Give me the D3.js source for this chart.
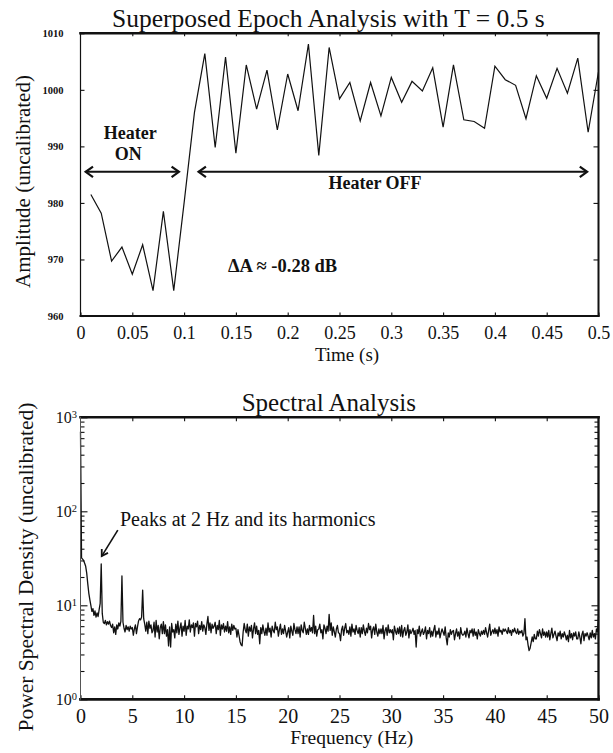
<!DOCTYPE html>
<html>
<head>
<meta charset="utf-8">
<script src="https://cdn.jsdelivr.net/npm/d3@7"></script>
<style>
  body { margin: 0; background: #fff; }
  svg { display: block; }
  text { font-family: "Liberation Serif", "Times New Roman", serif; fill: #111; }
</style>
</head>
<body>
<svg id="chart" width="613" height="753"></svg>
<script>
// ---------- Superposed epoch analysis (T = 0.5 s) ----------
const epochTimes = [
  0.01, 0.02, 0.03, 0.04, 0.05, 0.06, 0.07, 0.08, 0.09, 0.10,
  0.11, 0.12, 0.13, 0.14, 0.15, 0.16, 0.17, 0.18, 0.19, 0.20,
  0.21, 0.22, 0.23, 0.24, 0.25, 0.26, 0.27, 0.28, 0.29, 0.30,
  0.31, 0.32, 0.33, 0.34, 0.35, 0.36, 0.37, 0.38, 0.39, 0.40,
  0.41, 0.42, 0.43, 0.44, 0.45, 0.46, 0.47, 0.48, 0.49, 0.50
];
const epochAmplitude = [
  981.5, 978.2, 969.7, 972.2, 967.4, 972.6, 964.5, 978.5, 964.5, 980.0,
  996.0, 1006.4, 989.8, 1005.8, 988.8, 1004.4, 996.6, 1003.5, 992.9, 1002.8,
  996.3, 1008.1, 988.4, 1007.5, 998.4, 1001.3, 994.5, 1001.3, 995.4, 1002.2,
  997.8, 1001.5, 999.8, 1003.9, 993.4, 1004.4, 994.7, 994.4, 993.2, 1004.2,
  1001.8, 1000.8, 994.9, 1002.5, 998.5, 1003.8, 999.4, 1005.6, 992.5, 1003.2
];
const timeTicks = [0, 0.05, 0.1, 0.15, 0.2, 0.25, 0.3, 0.35, 0.4, 0.45, 0.5];
const timeTickLabels = ["0", "0.05", "0.1", "0.15", "0.2", "0.25", "0.3", "0.35", "0.4", "0.45", "0.5"];
const amplitudeTicks = [960, 970, 980, 990, 1000, 1010];

// ---------- Spectral analysis: PSD sampled every 0.1 Hz from 0 to 50 Hz ----------
const freqStep = 0.1;
const psd = [
  /* 0 Hz */ 700, 32, 31, 30, 28, 26, 22, 17, 13.5, 11.5,
  /* 1 */ 10, 8.6, 9.2, 7.8, 8.7, 7.5, 8.3, 7.6, 9.0, 10.5,
  /* 2 */ 27.5, 8.2, 6.6, 6.4, 6.9, 6.2, 6.7, 6.3, 6.8, 6.1,
  /* 3 */ 5.8, 6.3, 5.1, 5.9, 4.9, 6.2, 5.6, 6.5, 6.0, 6.8,
  /* 4 */ 20.5, 6.6, 5.7, 5.2, 6.1, 5.5, 5.9, 5.3, 6.0, 5.6,
  /* 5 */ 5.8, 4.8, 5.6, 6.2, 5.0, 5.9, 6.8, 7.2, 7.0, 7.5,
  /* 6 */ 14.5, 7.2, 6.3, 5.3, 6.6, 5.0, 6.8, 5.7, 6.2, 5.1,
  /* 7 */ 5.4, 6.6, 4.6, 6.9, 5.2, 6.1, 4.4, 5.8, 6.3, 5.0,
  /* 8 */ 6.7, 5.0, 6.2, 4.7, 5.5, 3.7, 5.9, 3.6, 6.4, 5.2,
  /* 9 */ 5.5, 4.5, 6.3, 5.1, 6.8, 4.9, 5.7, 6.5, 4.7, 6.0,
  /* 10 */ 5.3, 6.9, 4.8, 6.0, 5.6, 7.0, 5.2, 6.2, 5.8, 6.5,
  /* 11 */ 4.7, 6.4, 5.9, 6.8, 5.0, 6.1, 5.5, 6.7, 5.3, 6.2,
  /* 12 */ 5.8, 4.9, 6.3, 7.6, 5.4, 6.5, 5.1, 6.3, 5.7, 6.0,
  /* 13 */ 6.6, 5.0, 6.1, 5.5, 6.9, 4.8, 6.2, 5.6, 6.4, 5.2,
  /* 14 */ 6.0, 5.3, 6.7, 5.1, 5.9, 4.9, 6.3, 5.4, 6.1, 5.6,
  /* 15 */ 5.7, 4.6, 5.5, 4.8, 4.1, 3.8, 3.7, 5.2, 6.4, 5.5,
  /* 16 */ 5.1, 6.3, 4.7, 5.9, 5.3, 6.1, 4.5, 5.6, 6.5, 5.0,
  /* 17 */ 6.0, 4.9, 5.4, 3.9, 5.8, 5.0, 6.2, 5.3, 4.8, 5.7,
  /* 18 */ 4.8, 6.5, 5.2, 5.7, 4.6, 6.0, 5.4, 5.1, 6.6, 5.5,
  /* 19 */ 5.9, 4.7, 5.5, 6.3, 4.9, 5.6, 5.0, 6.1, 5.3, 4.6,
  /* 20 */ 5.2, 5.8, 4.5, 6.0, 5.3, 4.8, 6.4, 5.5, 5.0, 5.9,
  /* 21 */ 5.0, 5.9, 4.6, 6.2, 5.4, 5.1, 6.6, 5.7, 4.9, 5.6,
  /* 22 */ 4.9, 6.1, 5.3, 5.8, 5.1, 7.8, 5.0, 6.0, 4.7, 5.5,
  /* 23 */ 5.6, 6.3, 5.1, 5.5, 4.4, 6.2, 5.7, 5.0, 6.0, 5.3,
  /* 24 */ 8.0, 5.4, 6.5, 4.8, 5.9, 5.2, 4.6, 5.6, 6.1, 5.1,
  /* 25 */ 5.0, 4.2, 5.5, 6.0, 4.8, 5.7, 6.4, 5.1, 5.4, 4.9,
  /* 26 */ 5.9, 4.7, 6.3, 5.2, 5.6, 4.9, 6.1, 5.4, 5.0, 5.8,
  /* 27 */ 4.6, 5.8, 5.0, 6.2, 5.3, 4.8, 5.7, 5.1, 6.4, 5.5,
  /* 28 */ 6.0, 4.5, 5.5, 5.9, 4.9, 6.3, 5.2, 4.7, 5.6, 5.0,
  /* 29 */ 5.6, 5.0, 6.1, 4.4, 5.4, 5.8, 4.8, 6.2, 5.1, 5.5,
  /* 30 */ 5.1, 5.5, 4.3, 6.0, 5.3, 4.9, 5.7, 5.0, 5.9, 4.7,
  /* 31 */ 6.1, 4.6, 5.4, 5.8, 4.8, 5.2, 6.2, 4.5, 5.5, 5.0,
  /* 32 */ 5.3, 5.7, 4.9, 5.4, 3.6, 5.5, 5.0, 6.0, 4.7, 5.2,
  /* 33 */ 5.6, 4.9, 5.2, 5.9, 4.4, 5.4, 5.0, 5.8, 4.6, 5.3,
  /* 34 */ 4.7, 5.5, 6.1, 4.6, 5.3, 4.9, 5.7, 4.5, 5.1, 5.6,
  /* 35 */ 5.2, 4.8, 5.9, 4.5, 3.8, 5.1, 4.6, 5.5, 4.9, 5.3,
  /* 36 */ 5.4, 4.3, 5.0, 5.6, 4.7, 5.2, 4.4, 5.8, 5.0, 4.8,
  /* 37 */ 4.9, 5.3, 4.6, 5.7, 5.0, 4.5, 5.4, 5.1, 5.6, 4.7,
  /* 38 */ 5.6, 4.8, 5.2, 4.4, 5.5, 5.0, 4.7, 5.3, 4.9, 5.4,
  /* 39 */ 4.9, 5.8, 5.1, 4.6, 5.4, 6.3, 4.8, 5.2, 5.5, 5.0,
  /* 40 */ 5.7, 5.0, 5.5, 4.7, 5.9, 5.2, 5.4, 4.9, 5.6, 5.3,
  /* 41 */ 5.6, 5.3, 5.0, 5.8, 5.1, 5.4, 4.8, 5.5, 5.2, 5.7,
  /* 42 */ 5.2, 5.0, 5.6, 4.9, 5.3, 5.1, 5.4, 4.7, 5.0, 7.2,
  /* 43 */ 4.3, 4.6, 3.8, 3.3, 3.5, 4.0, 4.6, 4.1, 4.9, 4.4,
  /* 44 */ 4.4, 5.3, 4.7, 5.5, 5.0, 4.5, 5.6, 4.8, 5.2, 4.6,
  /* 45 */ 5.2, 4.6, 5.4, 4.3, 5.0, 5.7, 4.5, 4.9, 5.3, 4.7,
  /* 46 */ 4.2, 5.1, 4.7, 5.3, 4.4, 5.0, 4.6, 5.2, 4.8, 4.3,
  /* 47 */ 4.8, 4.1, 5.4, 4.5, 5.0, 4.3, 5.1, 4.7, 5.2, 4.4,
  /* 48 */ 4.4, 5.2, 4.6, 3.9, 4.9, 5.3, 4.2, 5.0, 4.7, 5.1,
  /* 49 */ 4.7, 4.3, 5.1, 4.5, 5.4, 4.6, 5.0, 4.4, 5.6, 5.2,
  /* 50 */ 7.6
];
const freqTicks = [0, 5, 10, 15, 20, 25, 30, 35, 40, 45, 50];
const psdDecades = [1, 10, 100, 1000];
const psdDecadeExponents = ["0", "1", "2", "3"];

const svg = d3.select("#chart");

// Removes the default axis domain and restyles the tick text.
function styleAxis(g, size, weight) {
  g.select(".domain").remove();
  g.attr("font-family", null).attr("font-size", null);
  g.selectAll(".tick line").attr("stroke", "#111").attr("stroke-width", 1.1);
  g.selectAll(".tick text")
    .style("font-size", size + "px")
    .style("font-weight", weight)
    .attr("fill", "#111");
}

function frame(g, x0, x1, y0, y1, w) {
  const edges = [
    [x0, y0, x1, y0, w.top, "#111"],
    [x0, y1, x1, y1, w.bottom, "#111"],
    [x0, y0, x0, y1, w.left, w.leftColor || "#111"],
    [x1, y0, x1, y1, w.right, "#111"]
  ];
  g.selectAll("line.frame").data(edges).join("line")
    .attr("class", "frame")
    .attr("x1", d => d[0]).attr("y1", d => d[1])
    .attr("x2", d => d[2]).attr("y2", d => d[3])
    .attr("stroke", d => d[5])
    .attr("stroke-width", d => d[4])
    .attr("stroke-linecap", "square");
}

// Open chevron head at the tip of an arrow.
function arrowHead(g, tip, from, len, spread, width) {
  const ang = Math.atan2(from[1] - tip[1], from[0] - tip[0]);
  const p1 = [tip[0] + len * Math.cos(ang + spread), tip[1] + len * Math.sin(ang + spread)];
  const p2 = [tip[0] + len * Math.cos(ang - spread), tip[1] + len * Math.sin(ang - spread)];
  g.append("path")
    .attr("d", `M${p1[0]},${p1[1]}L${tip[0]},${tip[1]}L${p2[0]},${p2[1]}`)
    .attr("fill", "none").attr("stroke", "#111")
    .attr("stroke-width", width).attr("stroke-linejoin", "miter");
}

// ===================== Upper panel =====================
const ex = d3.scaleLinear().domain([0, 0.5]).range([80.5, 598.5]);
const ey = d3.scaleLinear().domain([960, 1010]).range([316, 33.3]);
const up = svg.append("g");

up.append("g")
  .attr("transform", `translate(0,${ey(960)})`)
  .call(d3.axisBottom(ex).tickValues(timeTicks).tickSize(-3.5).tickPadding(10.5)
    .tickFormat((d, i) => timeTickLabels[i]))
  .call(g => styleAxis(g, 18, "normal"));

up.append("g")
  .attr("transform", `translate(0,${ey(1010)})`)
  .call(d3.axisTop(ex).tickValues(timeTicks.slice(1, -1)).tickSize(-3).tickFormat(""))
  .call(g => styleAxis(g, 10, "normal"));

up.append("g")
  .attr("transform", `translate(${ex(0)},0)`)
  .call(d3.axisLeft(ey).tickValues(amplitudeTicks).tickSize(-4).tickPadding(17)
    .tickFormat(d3.format("d")))
  .call(g => styleAxis(g, 10.5, "bold"));

up.append("g")
  .attr("transform", `translate(${ex(0.5)},0)`)
  .call(d3.axisRight(ey).tickValues(amplitudeTicks.slice(1, -1)).tickSize(-5).tickFormat(""))
  .call(g => styleAxis(g, 10, "normal"));

up.append("path")
  .datum(epochTimes.map((t, i) => [t, epochAmplitude[i]]))
  .attr("fill", "none")
  .attr("stroke", "#111")
  .attr("stroke-width", 1.2)
  .attr("stroke-linejoin", "miter")
  .attr("d", d3.line().x(d => ex(d[0])).y(d => ey(d[1])));

frame(up, ex(0), ex(0.5), ey(1010), ey(960), { top: 2.6, bottom: 2, left: 1.2, right: 2 });

up.append("text")
  .attr("x", 112).attr("y", 27)
  .style("font-size", "25.5px")
  .text("Superposed Epoch Analysis with T = 0.5 s");

up.append("text")
  .attr("text-anchor", "middle")
  .attr("x", 347).attr("y", 361)
  .style("font-size", "19px")
  .text("Time (s)");

up.append("text")
  .attr("text-anchor", "middle")
  .attr("transform", "translate(30,181.5) rotate(-90)")
  .style("font-size", "21px")
  .text("Amplitude (uncalibrated)");

// heater state arrows
const arrowLevel = 985.5;
const heaterSpans = [
  { from: 0.005, to: 0.095 },
  { from: 0.114, to: 0.489 }
];
heaterSpans.forEach(s => {
  const a = [ex(s.from), ey(arrowLevel)], b = [ex(s.to), ey(arrowLevel)];
  up.append("line")
    .attr("x1", a[0]).attr("y1", a[1]).attr("x2", b[0]).attr("y2", b[1])
    .attr("stroke", "#111").attr("stroke-width", 2);
  arrowHead(up, a, b, 9, 0.62, 2.2);
  arrowHead(up, b, a, 9, 0.62, 2.2);
});

up.append("text").attr("text-anchor", "middle")
  .attr("x", ex(0.048)).attr("y", 138.5)
  .style("font-size", "18px").style("font-weight", "bold").text("Heater");
up.append("text").attr("text-anchor", "middle")
  .attr("x", ex(0.046)).attr("y", 160)
  .style("font-size", "18px").style("font-weight", "bold").text("ON");
up.append("text").attr("text-anchor", "middle")
  .attr("x", 375).attr("y", 189)
  .style("font-size", "18px").style("font-weight", "bold").text("Heater OFF");
up.append("text")
  .attr("x", 228).attr("y", 272)
  .style("font-size", "18.5px").style("font-weight", "bold").text("ΔA ≈ -0.28 dB");

// ===================== Lower panel =====================
const fx = d3.scaleLinear().domain([0, 50]).range([80.5, 598.5]);
const fy = d3.scaleLog().domain([1, 1000]).range([699.3, 417.3]);
const low = svg.append("g");

const minorTicks = [];
[1, 10, 100].forEach(dec => { for (let m = 2; m <= 9; m++) minorTicks.push(dec * m); });

low.append("g")
  .attr("transform", `translate(0,${fy(1)})`)
  .call(d3.axisBottom(fx).tickValues(freqTicks).tickSize(-4).tickPadding(10).tickFormat(d3.format("d")))
  .call(g => styleAxis(g, 20, "normal"));

low.append("g")
  .attr("transform", `translate(0,${fy(1000)})`)
  .call(d3.axisTop(fx).tickValues(freqTicks.slice(1, -1)).tickSize(-4).tickFormat(""))
  .call(g => styleAxis(g, 10, "normal"));

const yl = low.append("g")
  .attr("transform", `translate(${fx(0)},0)`)
  .call(d3.axisLeft(fy).tickValues(psdDecades).tickSize(-7).tickPadding(3.5).tickFormat(""))
  .call(g => styleAxis(g, 16, "normal"));
yl.selectAll(".tick text").each(function (d, i) {
  const t = d3.select(this).attr("dy", "0.33em").text("");
  t.append("tspan").text("10");
  t.append("tspan").attr("dy", "-0.45em").style("font-size", "10.5px").text(psdDecadeExponents[i]);
});

low.append("g")
  .attr("transform", `translate(${fx(0)},0)`)
  .call(d3.axisLeft(fy).tickValues(minorTicks).tickSize(-4).tickFormat(""))
  .call(g => styleAxis(g, 10, "normal"));

low.append("g")
  .attr("transform", `translate(${fx(50)},0)`)
  .call(d3.axisRight(fy).tickValues(psdDecades.slice(1, -1)).tickSize(-7).tickFormat(""))
  .call(g => styleAxis(g, 10, "normal"));
low.append("g")
  .attr("transform", `translate(${fx(50)},0)`)
  .call(d3.axisRight(fy).tickValues(minorTicks).tickSize(-4).tickFormat(""))
  .call(g => styleAxis(g, 10, "normal"));

low.append("path")
  .datum(psd.map((v, i) => [i * freqStep, v]))
  .attr("fill", "none")
  .attr("stroke", "#111")
  .attr("stroke-width", 1.3)
  .attr("stroke-linejoin", "round")
  .attr("d", d3.line().x(d => fx(d[0])).y(d => fy(d[1])));

frame(low, fx(0), fx(50), fy(1000), fy(1),
  { top: 2.6, bottom: 2.8, left: 1, right: 2.3, leftColor: "#555" });

low.append("text")
  .attr("x", 241.7).attr("y", 410.5)
  .style("font-size", "25px")
  .text("Spectral Analysis");

low.append("text")
  .attr("text-anchor", "middle")
  .attr("x", 351.7).attr("y", 744)
  .style("font-size", "19.5px")
  .text("Frequency (Hz)");

low.append("text")
  .attr("text-anchor", "middle")
  .attr("transform", "translate(33,567) rotate(-90)")
  .style("font-size", "21.5px")
  .text("Power Spectral Density (uncalibrated)");

low.append("text")
  .attr("x", 120).attr("y", 525.5)
  .style("font-size", "20px")
  .text("Peaks at 2 Hz and its harmonics");

// pointer to the 2 Hz line
const tail = [fx(3.6), fy(63)], tip = [fx(2.05), fy(33.4)];
low.append("line")
  .attr("x1", tail[0]).attr("y1", tail[1]).attr("x2", tip[0]).attr("y2", tip[1])
  .attr("stroke", "#111").attr("stroke-width", 1.6);
arrowHead(low, tip, tail, 7, 0.55, 1.8);
</script>
</body>
</html>
